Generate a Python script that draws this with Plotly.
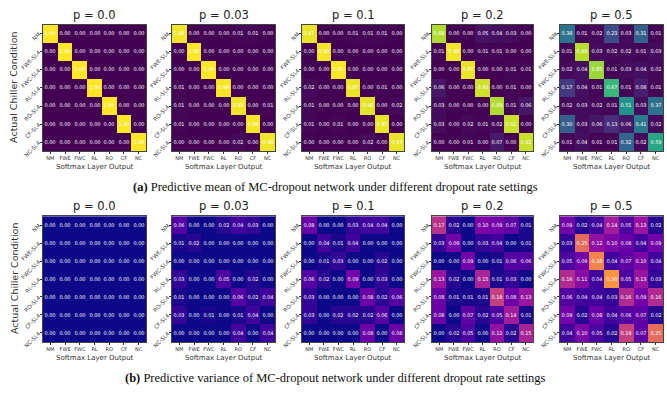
import plotly.graph_objects as go

W, H = 667, 399

x_labels = ["NM", "FWE", "FWC", "RL", "RO", "CF", "NC"]
y_labels = ["NM", "FWE-SL4", "FWC-SL4", "RL-SL4", "RO-SL4", "CF-SL4", "NC-SL4"]
p_titles = ["p = 0.0", "p = 0.03", "p = 0.1", "p = 0.2", "p = 0.5"]

mean_p00 = [
    [1.00, 0.00, 0.00, 0.00, 0.00, 0.00, 0.00],
    [0.00, 1.00, 0.00, 0.00, 0.00, 0.00, 0.00],
    [0.00, 0.00, 1.00, 0.00, 0.00, 0.00, 0.00],
    [0.00, 0.00, 0.00, 1.00, 0.00, 0.00, 0.00],
    [0.00, 0.00, 0.00, 0.00, 1.00, 0.00, 0.00],
    [0.00, 0.00, 0.00, 0.00, 0.00, 1.00, 0.00],
    [0.00, 0.00, 0.00, 0.00, 0.00, 0.00, 1.00],
]
mean_p003 = [
    [0.98, 0.00, 0.00, 0.00, 0.01, 0.01, 0.00],
    [0.00, 1.00, 0.00, 0.00, 0.00, 0.00, 0.00],
    [0.00, 0.00, 1.00, 0.00, 0.00, 0.00, 0.00],
    [0.01, 0.00, 0.00, 0.99, 0.00, 0.00, 0.00],
    [0.01, 0.00, 0.00, 0.00, 0.98, 0.00, 0.01],
    [0.01, 0.00, 0.00, 0.00, 0.00, 0.99, 0.00],
    [0.00, 0.00, 0.00, 0.00, 0.02, 0.00, 0.98],
]
mean_p01 = [
    [0.97, 0.00, 0.00, 0.01, 0.01, 0.01, 0.00],
    [0.00, 0.99, 0.00, 0.00, 0.00, 0.00, 0.00],
    [0.00, 0.00, 1.00, 0.00, 0.00, 0.00, 0.00],
    [0.02, 0.00, 0.00, 0.97, 0.00, 0.01, 0.00],
    [0.01, 0.00, 0.00, 0.00, 0.96, 0.00, 0.02],
    [0.01, 0.00, 0.01, 0.00, 0.00, 0.97, 0.00],
    [0.00, 0.00, 0.00, 0.00, 0.02, 0.00, 0.97],
]
mean_p02 = [
    [0.88, 0.00, 0.00, 0.05, 0.04, 0.03, 0.00],
    [0.01, 0.98, 0.00, 0.01, 0.01, 0.00, 0.00],
    [0.00, 0.00, 0.97, 0.00, 0.00, 0.01, 0.01],
    [0.06, 0.00, 0.00, 0.93, 0.00, 0.01, 0.00],
    [0.03, 0.00, 0.00, 0.00, 0.88, 0.01, 0.06],
    [0.03, 0.00, 0.02, 0.01, 0.02, 0.92, 0.00],
    [0.00, 0.00, 0.01, 0.00, 0.07, 0.00, 0.92],
]
mean_p05 = [
    [0.38, 0.01, 0.02, 0.23, 0.03, 0.31, 0.01],
    [0.01, 0.89, 0.03, 0.02, 0.02, 0.01, 0.03],
    [0.02, 0.04, 0.85, 0.01, 0.03, 0.04, 0.02],
    [0.17, 0.04, 0.01, 0.67, 0.01, 0.08, 0.01],
    [0.02, 0.03, 0.02, 0.01, 0.51, 0.03, 0.37],
    [0.30, 0.03, 0.06, 0.13, 0.06, 0.41, 0.02],
    [0.01, 0.04, 0.01, 0.01, 0.32, 0.02, 0.59],
]

var_p00 = [[0.00] * 7 for _ in range(7)]
var_p003 = [
    [0.06, 0.00, 0.00, 0.02, 0.04, 0.03, 0.00],
    [0.01, 0.02, 0.00, 0.00, 0.00, 0.00, 0.00],
    [0.00, 0.00, 0.00, 0.00, 0.00, 0.00, 0.00],
    [0.03, 0.00, 0.00, 0.05, 0.00, 0.02, 0.00],
    [0.01, 0.00, 0.00, 0.00, 0.06, 0.02, 0.04],
    [0.03, 0.00, 0.01, 0.00, 0.01, 0.04, 0.00],
    [0.00, 0.00, 0.00, 0.00, 0.04, 0.00, 0.04],
]
var_p01 = [
    [0.08, 0.00, 0.00, 0.03, 0.04, 0.04, 0.00],
    [0.00, 0.04, 0.01, 0.04, 0.00, 0.00, 0.00],
    [0.00, 0.01, 0.03, 0.00, 0.00, 0.02, 0.00],
    [0.06, 0.02, 0.00, 0.09, 0.00, 0.03, 0.00],
    [0.03, 0.00, 0.00, 0.00, 0.08, 0.02, 0.06],
    [0.03, 0.00, 0.02, 0.02, 0.02, 0.06, 0.00],
    [0.00, 0.00, 0.00, 0.00, 0.08, 0.00, 0.08],
]
var_p02 = [
    [0.17, 0.02, 0.00, 0.10, 0.09, 0.07, 0.01],
    [0.03, 0.09, 0.00, 0.03, 0.04, 0.00, 0.01],
    [0.00, 0.00, 0.09, 0.00, 0.01, 0.06, 0.06],
    [0.13, 0.02, 0.00, 0.15, 0.01, 0.03, 0.00],
    [0.08, 0.01, 0.01, 0.01, 0.19, 0.08, 0.13],
    [0.08, 0.00, 0.07, 0.02, 0.05, 0.14, 0.01],
    [0.00, 0.02, 0.05, 0.00, 0.12, 0.02, 0.15],
]
var_p05 = [
    [0.09, 0.02, 0.04, 0.14, 0.05, 0.13, 0.02],
    [0.03, 0.25, 0.12, 0.10, 0.08, 0.04, 0.09],
    [0.05, 0.09, 0.28, 0.04, 0.07, 0.10, 0.04],
    [0.16, 0.11, 0.04, 0.30, 0.05, 0.13, 0.03],
    [0.06, 0.04, 0.04, 0.03, 0.16, 0.09, 0.16],
    [0.09, 0.02, 0.08, 0.04, 0.06, 0.07, 0.02],
    [0.04, 0.10, 0.05, 0.02, 0.19, 0.07, 0.25],
]

mean_mats = [mean_p00, mean_p003, mean_p01, mean_p02, mean_p05]
var_mats = [var_p00, var_p003, var_p01, var_p02, var_p05]

caption_a = "<b>(a)</b> Predictive mean of MC-dropout network under different dropout rate settings"
caption_b = "<b>(b)</b> Predictive variance of MC-dropout network under different dropout rate settings"

# pixel layout
col_x = [(43, 146), (172, 275), (302, 404), (432, 533), (560, 663)]
row_y = [(25, 154), (220, 348)]

fig = go.Figure()
layout = {}
annotations = []

def px_x(v):
    return v / W

def px_y(v):
    return 1 - v / H

sans = "DejaVu Sans"
k = 0
for r in range(2):
    mats = mean_mats if r == 0 else var_mats
    cscale = "Viridis" if r == 0 else "Plasma"
    zmax = 1.0 if r == 0 else 0.4
    for c in range(5):
        k += 1
        z = mats[c]
        txt = [["%.2f" % v for v in row] for row in z]
        xa = "x" if k == 1 else "x%d" % k
        ya = "y" if k == 1 else "y%d" % k
        fig.add_trace(go.Heatmap(
            z=z, x=x_labels, y=y_labels, text=txt, texttemplate="%{text}",
            textfont=dict(size=5, color="white", family=sans),
            colorscale=cscale, zmin=0, zmax=zmax, showscale=False,
            xaxis=xa, yaxis=ya, hoverinfo="skip"))
        x0, x1 = col_x[c]
        y0, y1 = row_y[r]
        layout["xaxis" if k == 1 else "xaxis%d" % k] = dict(
            domain=[px_x(x0), px_x(x1)], anchor=ya, type="category",
            tickfont=dict(size=5, family=sans, color="#333"),
            ticks="outside", ticklen=2, tickcolor="#333", tickangle=0,
            showline=True, linecolor="#444", linewidth=1, mirror=True,
            showgrid=False, zeroline=False, fixedrange=True)
        layout["yaxis" if k == 1 else "yaxis%d" % k] = dict(
            domain=[px_y(y1), px_y(y0)], anchor=xa, type="category",
            autorange="reversed",
            tickfont=dict(size=5.5, family=sans, color="#333"),
            ticks="outside", ticklen=2, tickcolor="#333", tickangle=-45,
            showline=True, linecolor="#444", linewidth=1, mirror=True,
            showgrid=False, zeroline=False, fixedrange=True)
        cx = (x0 + x1) / 2
        annotations.append(dict(text=p_titles[c], x=px_x(cx), y=px_y(y0 - 1),
                                xref="paper", yref="paper", showarrow=False,
                                xanchor="center", yanchor="bottom",
                                font=dict(size=11.5, family=sans, color="#222")))
        annotations.append(dict(text="Softmax Layer Output", x=px_x(cx), y=px_y(y1 + 10),
                                xref="paper", yref="paper", showarrow=False,
                                xanchor="center", yanchor="top",
                                font=dict(size=7, family=sans, color="#333")))
    annotations.append(dict(text="Actual Chiller Condition", x=px_x(14),
                            y=px_y((row_y[r][0] + row_y[r][1]) / 2),
                            xref="paper", yref="paper", showarrow=False,
                            textangle=-90, xanchor="center", yanchor="middle",
                            font=dict(size=9.5, family=sans, color="#333")))

annotations.append(dict(text=caption_a, x=px_x(335), y=px_y(190), xref="paper", yref="paper",
                        showarrow=False, xanchor="center", yanchor="middle",
                        font=dict(size=12.5, family="Liberation Serif", color="#111")))
annotations.append(dict(text=caption_b, x=px_x(335), y=px_y(385), xref="paper", yref="paper",
                        showarrow=False, xanchor="center", yanchor="middle",
                        font=dict(size=12.5, family="Liberation Serif", color="#111")))

fig.update_layout(**layout)
fig.update_layout(width=W, height=H, margin=dict(l=0, r=0, t=0, b=0),
                  paper_bgcolor="white", plot_bgcolor="white",
                  annotations=annotations, showlegend=False)

fig.write_html("out.html", config={"displayModeBar": False},
               post_script="document.body.style.margin='0';document.body.style.padding='0';document.body.style.overflow='hidden';")
